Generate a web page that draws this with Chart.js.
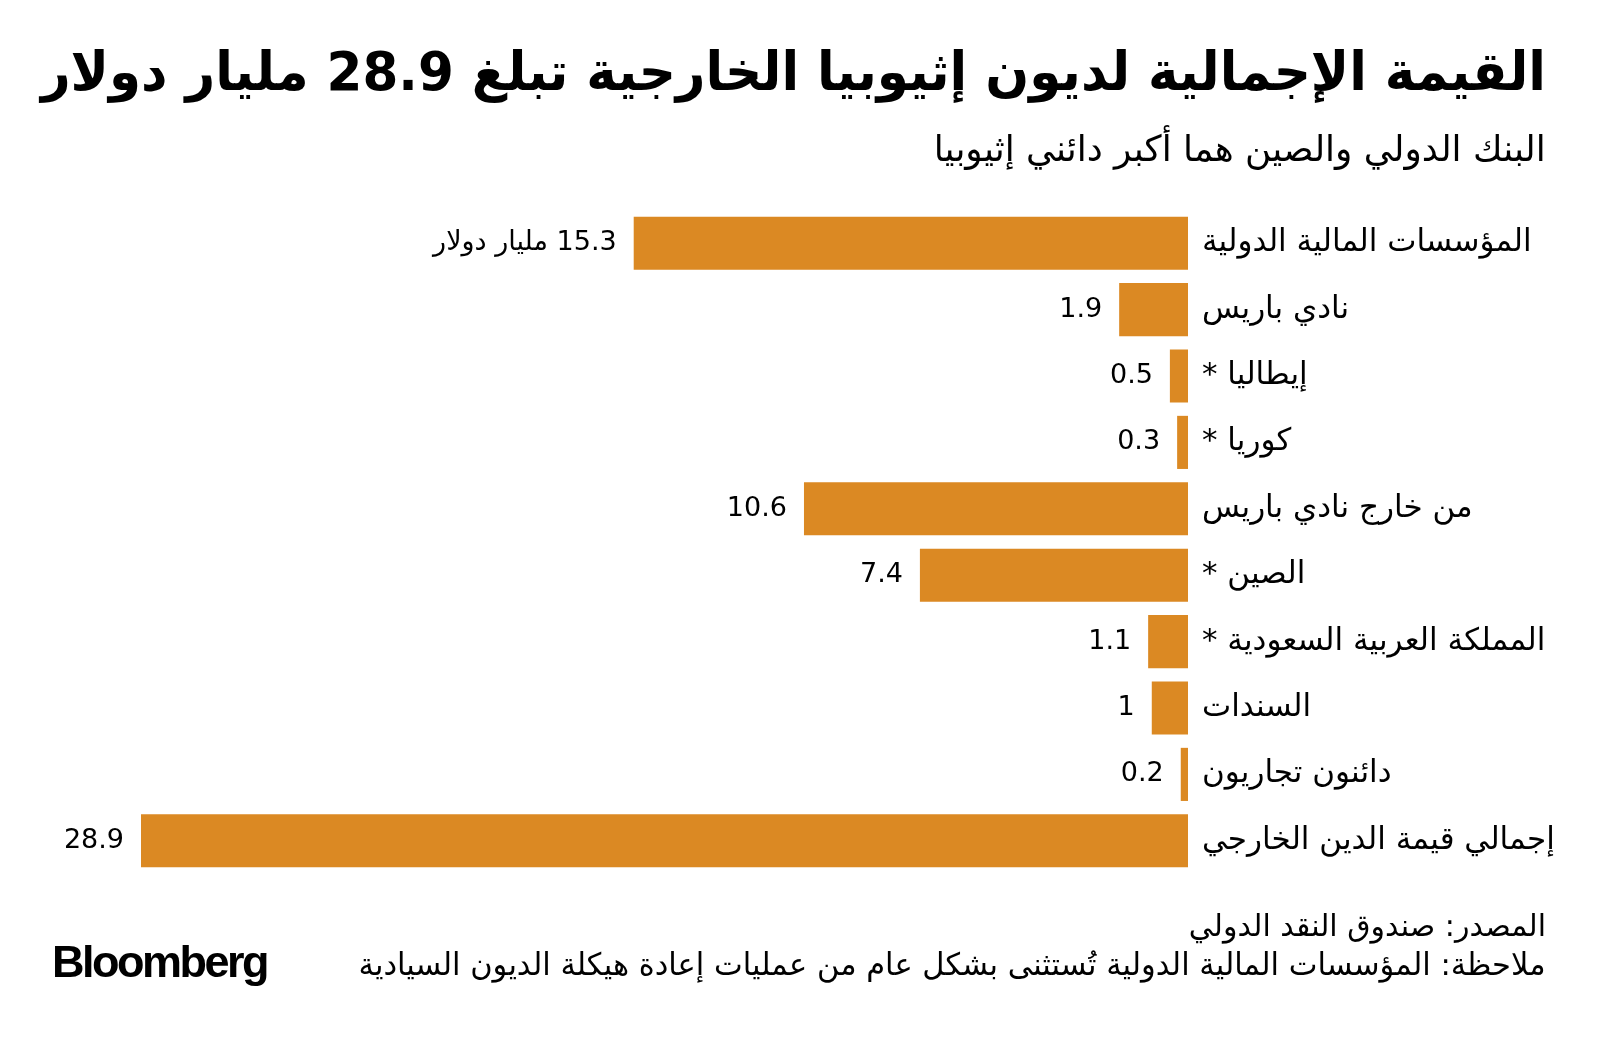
<!DOCTYPE html>
<html>
<head>
<meta charset="utf-8">
<script src="https://cdn.jsdelivr.net/npm/chart.js@4"></script>
<style>
  html, body { margin: 0; padding: 0; background: #fff; }
  #wrap { position: relative; width: 1600px; height: 1042px; overflow: hidden; }
  #wrap canvas { position: absolute; left: 0; top: 0; }
  .txt { position: absolute; direction: rtl; white-space: nowrap; color: #000; font-family: 'DejaVu Sans', sans-serif; }
  #title { right: 54px; top: 40px; font-size: 54px; font-weight: bold; transform-origin: right center; }
  #subtitle { right: 54px; top: 128px; font-size: 36px; transform-origin: right center; }
  #source { right: 54px; top: 908px; font-size: 30px; transform-origin: right center; }
  #note { right: 54px; top: 946px; font-size: 31px; transform-origin: right center; }
  #logo { position: absolute; left: 52px; top: 936px; font-family: 'Liberation Sans', Arial, sans-serif; font-weight: bold; font-size: 45px; letter-spacing: -2.5px; }
</style>
</head>
<body>
<div id="wrap">
  <canvas id="barChart" width="1600" height="1042" dir="rtl"></canvas>
  <div class="txt" id="title">القيمة الإجمالية لديون إثيوبيا الخارجية تبلغ 28.9 مليار دولار</div>
  <div class="txt" id="subtitle">البنك الدولي والصين هما أكبر دائني إثيوبيا</div>
  <div class="txt" id="source">المصدر: صندوق النقد الدولي</div>
  <div class="txt" id="note">ملاحظة: المؤسسات المالية الدولية تُستثنى بشكل عام من عمليات إعادة هيكلة الديون السيادية</div>
  <div id="logo">Bloomberg</div>
</div>
<script>
const categories = ['المؤسسات المالية الدولية', 'نادي باريس', 'إيطاليا *', 'كوريا *', 'من خارج نادي باريس', 'الصين *', 'المملكة العربية السعودية *', 'السندات', 'دائنون تجاريون', 'إجمالي قيمة الدين الخارجي'];
const debtValues = [15.3, 1.9, 0.5, 0.3, 10.6, 7.4, 1.1, 1, 0.2, 28.9];
const valueLabels = ['15.3 مليار دولار', '1.9', '0.5', '0.3', '10.6', '7.4', '1.1', '1', '0.2', '28.9'];

// squeeze html texts so they keep the reference width
function fitWidth(id, w) {
	const el = document.getElementById(id);
	const cur = el.getBoundingClientRect().width;
	if (cur > w) el.style.transform = 'scaleX(' + (w / cur) + ')';
}
fitWidth('title', 1505);
fitWidth('subtitle', 612);
fitWidth('source', 367);
fitWidth('note', 1187);

const valueLabelPlugin = {
	id: 'valueLabels',
	afterDatasetsDraw(chart) {
		const ctx = chart.ctx;
		const meta = chart.getDatasetMeta(0);
		ctx.save();
		ctx.font = '27px "DejaVu Sans", sans-serif';
		ctx.fillStyle = '#000';
		ctx.direction = 'rtl';
		ctx.textAlign = 'right';
		ctx.textBaseline = 'middle';
		meta.data.forEach(function (bar, i) {
			ctx.fillText(valueLabels[i], bar.x - 17, bar.y);
		});
		ctx.restore();
	}
};

const ctx = document.getElementById('barChart').getContext('2d');
const barChart = new Chart(ctx, {
	type: 'bar',
	data: {
		labels: categories,
		datasets: [{
			data: debtValues,
			backgroundColor: '#DB8923',
			borderWidth: 0,
			categoryPercentage: 0.8,
			barPercentage: 1.0
		}]
	},
	options: {
		indexAxis: 'y',
		responsive: false,
		animation: false,
		layout: {
			padding: { left: 141, right: 20, top: 210, bottom: 168 }
		},
		scales: {
			x: {
				display: false,
				reverse: true,
				min: 0,
				max: 28.9
			},
			y: {
				position: 'right',
				grid: { display: false },
				border: { display: false },
				ticks: {
					padding: 6,
					color: '#000',
					font: { family: 'DejaVu Sans', size: 31 }
				},
				afterFit(scale) {
					scale.width = 392;
				}
			}
		},
		plugins: {
			legend: { display: false },
			tooltip: { enabled: false }
		}
	},
	plugins: [valueLabelPlugin]
});
</script>
</body>
</html>
